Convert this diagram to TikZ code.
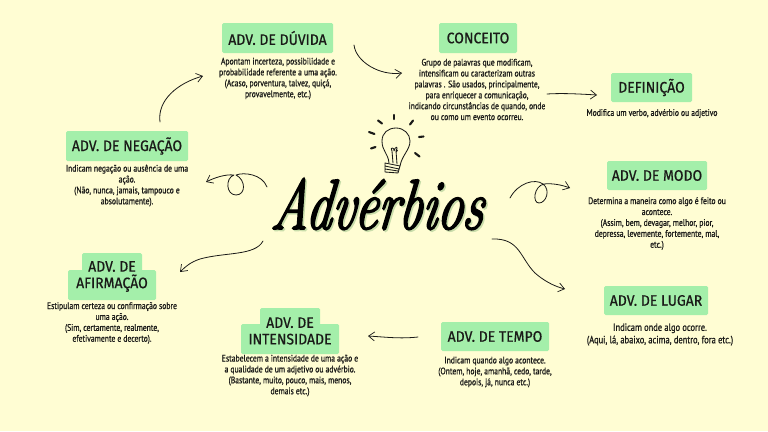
\documentclass[tikz,border=0pt]{standalone}
\usepackage{fontspec}
\usetikzlibrary{arrows.meta}
\newfontfamily\headfont[FakeStretch=0.92,FakeBold=0.7]{Fira Sans}
\newfontfamily\bodyfont[FakeStretch=0.805,FakeBold=0.9]{PT Sans}
\newfontfamily\titlefont[FakeStretch=0.72,FakeBold=2.4,FakeSlant=0.12]{Latin Modern Roman}
\definecolor{bgc}{HTML}{FFFDD3}
\definecolor{boxc}{HTML}{A4EFAA}
\definecolor{ink}{HTML}{1A1A18}
\definecolor{shadowc}{HTML}{C9DDAA}
\tikzset{
  x=1pt,y=-1pt,
  headbox/.style={fill=boxc,rounded corners=1.5pt,inner sep=0pt,text=ink,align=center,
    font=\headfont\fontsize{15.2}{15.5}\selectfont},
  headtxt/.style={text=ink,align=center,inner sep=0pt,font=\headfont\fontsize{15.2}{16.5}\selectfont},
  tabbox/.style={fill=boxc,rounded corners=1.5pt,inner sep=0pt},
  desc/.style={inner sep=0pt,align=center,text=ink,
    font=\bodyfont\fontsize{9.5}{10.9}\selectfont},
  sketch/.style={draw=ink,line width=0.8pt,line cap=round,line join=round,
    -{Straight Barb[length=6pt,width=9pt,line width=0.7pt]}},
  bulb/.style={draw=ink,line width=0.85pt,line cap=round,line join=round},
  ray/.style={draw=ink,line width=2.1pt,line cap=round},
}
\begin{document}
\begin{tikzpicture}
\useasboundingbox (0,0) rectangle (768,431);
\fill[bgc] (0,0) rectangle (768,431);

% boxes
\node[headbox,minimum width=111pt,minimum height=30pt] (duvida) at (277.5,38) {ADV. DE DÚVIDA};
\node[headbox,minimum width=78pt,minimum height=30pt] (conceito) at (478,38) {CONCEITO};
\node[headbox,minimum width=81pt,minimum height=29pt] (definicao) at (651.5,87.5) {DEFINIÇÃO};
\node[headbox,minimum width=100pt,minimum height=29pt] (modo) at (657,175.5) {ADV. DE MODO};
\node[headbox,minimum width=104pt,minimum height=29pt] (lugar) at (656,300.5) {ADV. DE LUGAR};
\node[headbox,minimum width=108pt,minimum height=29pt] (tempo) at (495,336.5) {ADV. DE TEMPO};
\node[headbox,minimum width=122pt,minimum height=30pt] (negacao) at (127,146) {ADV. DE NEGAÇÃO};
\node[tabbox,minimum width=60pt,minimum height=24pt] (tabint) at (290,320) {};
\node[headbox,minimum width=98pt,minimum height=30pt] (intens) at (290,339) {};
\node[headtxt] (intenstxt) at (290,331) {ADV. DE\\INTENSIDADE};
\node[tabbox,minimum width=60pt,minimum height=24pt] (tabafi) at (112,265) {};
\node[headbox,minimum width=88pt,minimum height=30pt] (afirm) at (112,285) {};
\node[headtxt] (afirmtxt) at (112,276.5) {ADV. DE\\AFIRMAÇÃO};

% descriptions
\node[desc] (dduvida) at (278,78.5) {Apontam incerteza, possibilidade e\\probabilidade referente a uma ação.\\(Acaso, porventura, talvez, quiçá,\\provavelmente, etc.)};
\node[desc] (dconceito) at (477,89.5) {Grupo de palavras que modificam,\\intensificam ou caracterizam outras\\palavras . São usados, principalmente,\\para enriquecer a comunicação,\\indicando circunstâncias de quando, onde\\ou como um evento ocorreu.};
\node[desc] (ddefinicao) at (652,113.5) {Modifica um verbo, advérbio ou adjetivo};
\node[desc] (dmodo) at (657,223.5) {Determina a maneira como algo é feito ou\\acontece.\\(Assim, bem, devagar, melhor, pior,\\depressa, levemente, fortemente, mal,\\etc.)};
\node[desc,font=\bodyfont\fontsize{10.5}{12.4}\selectfont] (dlugar) at (660,334.5) {Indicam onde algo ocorre.\\(Aqui, lá, abaixo, acima, dentro, fora etc.)};
\node[desc] (dtempo) at (495,372) {Indicam quando algo acontece.\\(Ontem, hoje, amanhã, cedo, tarde,\\depois,  já, nunca etc.)};
\node[desc] (dintens) at (290,375.5) {Estabelecem a intensidade de uma ação e\\a qualidade de um adjetivo ou advérbio.\\(Bastante, muito, pouco, mais, menos,\\demais etc.)};
\node[desc] (dafirm) at (112,323) {Estipulam certeza ou confirmação sobre\\uma ação.\\(Sim, certamente, realmente,\\efetivamente e decerto).};
\node[desc] (dnegacao) at (127,185.5) {Indicam negação ou ausência de uma\\ação.\\(Não, nunca, jamais, tampouco e\\absolutamente).};

% title
\node[inner sep=0pt,text=shadowc,font=\titlefont\itshape\fontsize{71}{71}\selectfont] at (377.5,205.5) {Advérbios};
\node[inner sep=0pt,text=black,font=\titlefont\itshape\fontsize{71}{71}\selectfont] (title) at (376,204) {Advérbios};

% connector end points
\coordinate (a1) at (354,45); \coordinate (a2) at (402,73);
\coordinate (b1) at (160,122); \coordinate (b2) at (203,76);
\coordinate (c1) at (267,187); \coordinate (c2) at (206,182);
\coordinate (d1) at (263,241); \coordinate (d2) at (180,272);
\coordinate (e1) at (547,94); \coordinate (e2) at (597,95);
\coordinate (f1) at (510,198); \coordinate (f2) at (570,188);
\coordinate (g1) at (492,239); \coordinate (g2) at (565,289);
\coordinate (h1) at (418,337); \coordinate (h2) at (368,336);

% connectors
\draw[sketch] (a1) .. controls (356,62) and (380,76) .. (a2);
\draw[sketch] (b1) .. controls (157,100) and (178,83) .. (b2);
\draw[sketch] (c1) .. controls (262,174) and (244,172) .. (236,175)
  .. controls (246,180) and (246,195) .. (236,195)
  .. controls (226,195) and (225,178) .. (234,175)
  .. controls (225,174) and (214,178) .. (c2);
\draw[sketch] (d1) .. controls (255,256) and (225,252) .. (200,259)
  .. controls (191,262) and (186,266) .. (d2);
\draw[sketch] (e1) .. controls (563,93) and (580,94) .. (e2);
\draw[sketch] (f1) .. controls (518,183) and (535,178) .. (543,184)
  .. controls (551,190) and (546,203) .. (539,203)
  .. controls (532,203) and (534,186) .. (544,184)
  .. controls (552,183) and (562,185) .. (f2);
\draw[sketch] (g1) .. controls (520,238) and (520,258) .. (535,273)
  .. controls (543,280) and (553,286) .. (g2);
\draw[sketch] (h1) .. controls (400,339) and (385,337) .. (h2);

% light bulb
\draw[bulb] (389,163) .. controls (388,153) and (382,151) .. (382,141)
  .. controls (382,133) and (388,128) .. (396,128)
  .. controls (404,128) and (410,134) .. (410,141)
  .. controls (410,150) and (402,155) .. (400,166);
\draw[bulb] (393,163) -- (392,151) (397,164) -- (396,151)
  (392,151) .. controls (389,147) and (395,147) .. (394,151)
  (394,151) .. controls (395,146) and (399,146) .. (396,151)
  (396,151) .. controls (398,149) and (398,151) .. (396,152);
\draw[bulb] (385,163) -- (400,166) -- (398,173) -- (385,172) -- cycle
  (385,166) -- (399,169) (385,169) -- (398,171);
\draw[ray] (394,115) -- (394,119);
\draw[ray] (378,120.5) -- (382,123.5);
\draw[ray] (413,120.5) -- (410,124.5);
\draw[ray] (369,132) -- (374.5,134);
\draw[ray] (419,137) -- (423.5,136.5);
\draw[ray] (371,148.5) -- (375.5,147);
\draw[ray] (415,153) -- (419.5,156.5);
\end{tikzpicture}
\end{document}
